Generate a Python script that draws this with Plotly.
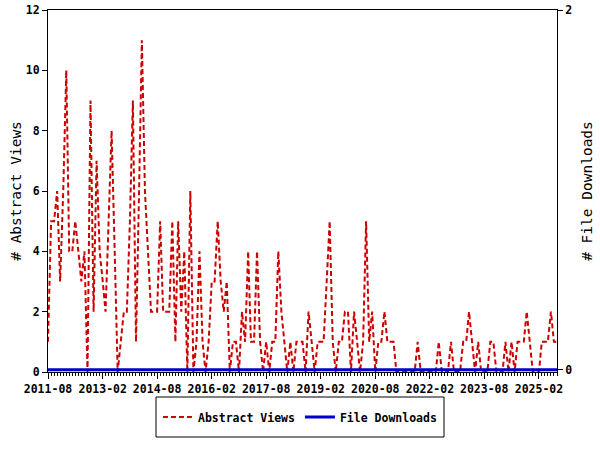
import plotly.graph_objects as go
import pandas as pd

months = [d.strftime("%Y-%m-%d") for d in pd.date_range("2011-08-01", "2025-08-01", freq="MS")]

abstract_views = [
    1, 5, 5, 6, 3, 6, 10, 4, 4, 5, 4, 3,
    4, 0, 9, 2, 7, 4, 3, 2, 5, 8, 4, 0,
    1, 2, 2, 5, 9, 1, 6, 11, 6, 4, 2, 2,
    2, 5, 2, 2, 2, 5, 1, 5, 2, 4, 0, 6,
    0, 1, 4, 1, 0, 1, 3, 3, 5, 3, 2, 3,
    0, 1, 1, 0, 2, 1, 4, 1, 1, 4, 1, 0,
    1, 0, 1, 1, 4, 2, 1, 0, 1, 0, 1, 1,
    1, 0, 2, 1, 0, 1, 1, 1, 3, 5, 1, 0,
    1, 1, 2, 2, 0, 2, 1, 0, 1, 5, 1, 2,
    0, 1, 1, 2, 1, 1, 1, 0, 0, 0, 0, 0,
    0, 0, 1, 0, 0, 0, 0, 0, 0, 1, 0, 0,
    0, 1, 0, 0, 0, 1, 1, 2, 1, 0, 1, 0,
    0, 0, 1, 1, 0, 0, 0, 1, 0, 1, 0, 1,
    1, 1, 2, 1, 0, 0, 0, 1, 1, 1, 2, 1,
    1,
]

file_downloads = [
    0, 0, 0, 0, 0, 0, 0, 0, 0, 0, 0, 0,
    0, 0, 0, 0, 0, 0, 0, 0, 0, 0, 0, 0,
    0, 0, 0, 0, 0, 0, 0, 0, 0, 0, 0, 0,
    0, 0, 0, 0, 0, 0, 0, 0, 0, 0, 0, 0,
    0, 0, 0, 0, 0, 0, 0, 0, 0, 0, 0, 0,
    0, 0, 0, 0, 0, 0, 0, 0, 0, 0, 0, 0,
    0, 0, 0, 0, 0, 0, 0, 0, 0, 0, 0, 0,
    0, 0, 0, 0, 0, 0, 0, 0, 0, 0, 0, 0,
    0, 0, 0, 0, 0, 0, 0, 0, 0, 0, 0, 0,
    0, 0, 0, 0, 0, 0, 0, 0, 0, 0, 0, 0,
    0, 0, 0, 0, 0, 0, 0, 0, 0, 0, 0, 0,
    0, 0, 0, 0, 0, 0, 0, 0, 0, 0, 0, 0,
    0, 0, 0, 0, 0, 0, 0, 0, 0, 0, 0, 0,
    0, 0, 0, 0, 0, 0, 0, 0, 0, 0, 0, 0,
    0,
]

MONO = "DejaVu Sans Mono"
tick_font = dict(family=MONO, size=11.5, color="black", weight="bold")
title_font = dict(family=MONO, size=14.5, color="black")

FIG_W, FIG_H = 600, 450

fig = go.Figure()
fig.add_trace(go.Scatter(
    x=months, y=abstract_views, name="Abstract Views", mode="lines",
    line=dict(color="#cc0000", width=2, dash="5px,3px"),
))
fig.add_trace(go.Scatter(
    x=months, y=file_downloads, name="File Downloads", mode="lines",
    line=dict(color="#0000cc", width=3), yaxis="y2",
))

fig.update_layout(
    width=FIG_W, height=FIG_H,
    margin=dict(l=48, r=43, t=10, b=78, pad=0),
    paper_bgcolor="white", plot_bgcolor="white",
    showlegend=True,
    legend=dict(
        orientation="h", xref="container", yref="container",
        x=0.5, xanchor="center", y=1 - 417 / FIG_H, yanchor="middle",
        font=tick_font, bgcolor="rgba(0,0,0,0)", borderwidth=0,
        itemwidth=30,
    ),
    xaxis=dict(
        type="date", range=[months[0], months[-1]],
        tick0=months[0], dtick="M18", tickformat="%Y-%m",
        ticks="outside", ticklen=6, tickcolor="black",
        showline=True, linecolor="black", linewidth=1, mirror=True,
        showgrid=False, zeroline=False, tickfont=tick_font,
        ticklabeloverflow="allow",
        minor=dict(tick0=months[0], dtick="M1", ticks="outside", ticklen=3,
                   tickcolor="black", showgrid=False),
        layer="below traces", automargin=False,
    ),
    yaxis=dict(
        range=[0, 12], dtick=2, ticks="outside", ticklen=5, tickcolor="black",
        showline=True, linecolor="black", linewidth=1,
        showgrid=False, zeroline=False, tickfont=tick_font,
        ticklabeloverflow="allow",
        title=dict(text="# Abstract Views", font=title_font, standoff=0),
        automargin=False, layer="below traces",
    ),
    yaxis2=dict(
        overlaying="y", side="right", anchor="x",
        range=[-0.012, 2], tickvals=[0, 2], ticks="outside", ticklen=5, tickcolor="black",
        showline=True, linecolor="black", linewidth=1,
        showgrid=False, zeroline=False, tickfont=tick_font,
        ticklabeloverflow="allow",
        title=dict(text="# File Downloads", font=title_font, standoff=10),
        automargin=False, layer="below traces",
    ),
    shapes=[dict(
        type="rect", xref="paper", yref="paper",
        x0=(156 - 48) / 509, x1=(444 - 48) / 509,
        y0=(372 - 437) / 362, y1=(372 - 397) / 362,
        line=dict(color="black", width=1), fillcolor="rgba(0,0,0,0)",
    )],
)

fig.write_html("out.html", config={"displayModeBar": False},
               post_script="document.body.style.margin='0px';")
